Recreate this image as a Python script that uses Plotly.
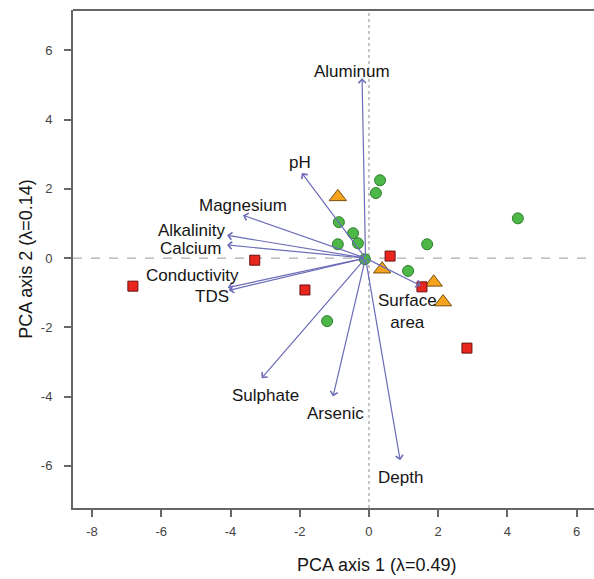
import plotly.graph_objects as go

# Site scores
green_x = [0.32, 0.20, -0.87, -0.46, -0.32, -0.90, -0.12, 1.68, 1.13, 4.30, -1.21]
green_y = [2.25, 1.88, 1.04, 0.72, 0.43, 0.40, -0.03, 0.40, -0.37, 1.15, -1.82]
orange_x = [-0.90, 0.38, 1.87, 2.14]
orange_y = [1.77, -0.32, -0.70, -1.27]
red_x = [-3.30, -6.82, 0.61, 1.53, -1.85, 2.83]
red_y = [-0.06, -0.81, 0.06, -0.83, -0.92, -2.60]

# Variable vectors (arrow tips)
var_names = ["Aluminum", "pH", "Magnesium", "Alkalinity", "Calcium",
             "Conductivity", "TDS", "Sulphate", "Arsenic", "Depth", "Surface area"]
var_x = [-0.20, -1.94, -3.64, -4.10, -4.10, -4.08, -4.05, -3.10, -1.04, 0.90, 1.50]
var_y = [5.20, 2.46, 1.24, 0.66, 0.38, -0.85, -0.93, -3.47, -4.00, -5.84, -0.80]
# label positions
lab_x = [-0.50, -2.00, -3.64, -5.10, -5.17, -5.10, -4.54, -3.00, -0.98, 0.90, 1.12]
lab_y = [5.40, 2.75, 1.53, 0.80, 0.29, -0.50, -1.10, -3.96, -4.48, -6.33, -1.54]
lab_text = ["Aluminum", "pH", "Magnesium", "Alkalinity", "Calcium",
            "Conductivity", "TDS", "Sulphate", "Arsenic", "Depth", "Surface<br>area"]
origin = (-0.10, 0.0)

x_ticks = [-8, -6, -4, -2, 0, 2, 4, 6]
y_ticks = [-6, -4, -2, 0, 2, 4, 6]
x_title = "PCA axis 1 (λ=0.49)"
y_title = "PCA axis 2 (λ=0.14)"

arrow_color = "#6C6CB8"

fig = go.Figure()

# reference dashed lines
fig.add_shape(type="line", x0=0, x1=0, y0=-7.22, y1=7.17, xref="x", yref="y",
              line=dict(color="#8a8a8a", width=1, dash="dot"), layer="below")
fig.add_shape(type="line", x0=-8.55, x1=6.6, y0=0, y1=0, xref="x", yref="y",
              line=dict(color="#9a9a9a", width=1, dash="dash"), layer="below")

fig.add_trace(go.Scatter(x=green_x, y=green_y, mode="markers",
                         marker=dict(symbol="circle", size=11, color="#4DB848",
                                     line=dict(color="#2E7D2E", width=1)),
                         showlegend=False, hoverinfo="skip"))
fig.add_trace(go.Scatter(x=orange_x, y=orange_y, mode="markers",
                         marker=dict(symbol="triangle-up", size=15, color="#F5A21C",
                                     line=dict(color="#7A5010", width=1)),
                         showlegend=False, hoverinfo="skip"))
fig.add_trace(go.Scatter(x=red_x, y=red_y, mode="markers",
                         marker=dict(symbol="square", size=10, color="#E8261E",
                                     line=dict(color="#6A1010", width=1)),
                         showlegend=False, hoverinfo="skip"))

for vx, vy in zip(var_x, var_y):
    fig.add_annotation(x=vx, y=vy, ax=origin[0], ay=origin[1], xref="x", yref="y",
                       axref="x", ayref="y", text="", showarrow=True,
                       arrowhead=4, arrowsize=1.2, arrowwidth=1.2, arrowcolor=arrow_color)

for lx, ly, t in zip(lab_x, lab_y, lab_text):
    fig.add_annotation(x=lx, y=ly, xref="x", yref="y", text=t, showarrow=False,
                       font=dict(family="Liberation Sans, Arial", size=17, color="#151515"))

# x axis title (centred as in the reference, which is offset to the right)
fig.add_annotation(x=0.583, y=-0.1145, xref="paper", yref="paper", text=x_title,
                   showarrow=False, xanchor="center", yanchor="middle",
                   font=dict(family="Liberation Sans, Arial", size=18, color="#151515"))

fig.update_layout(
    width=594, height=579,
    margin=dict(l=73, r=0, t=10, b=71),
    paper_bgcolor="white", plot_bgcolor="white",
    font=dict(family="Liberation Sans, Arial", color="#222222"),
    xaxis=dict(range=[-8.55, 6.5], tickvals=x_ticks, ticktext=[str(v) for v in x_ticks],
               automargin=False,
               showgrid=False, zeroline=False, showline=True, linecolor="#666666",
               linewidth=2, ticks="outside", ticklen=7, tickcolor="#666666", tickwidth=2,
               ticklabelstandoff=3,
               tickfont=dict(size=13, color="#444444"),
               mirror=False),
    yaxis=dict(range=[-7.22, 7.17], tickvals=y_ticks, ticktext=[str(v) for v in y_ticks],
               automargin=False,
               showgrid=False, zeroline=False, showline=True, linecolor="#666666",
               linewidth=2, ticks="outside", ticklen=7, tickcolor="#666666", tickwidth=2,
               ticklabelstandoff=9,
               tickfont=dict(size=13, color="#444444"),
               title=dict(text=y_title, font=dict(size=18, color="#151515"),
                          standoff=4)),
)
# top border line
fig.add_shape(type="line", xref="paper", yref="paper", x0=0, x1=1, y0=1, y1=1,
              line=dict(color="#666666", width=2))

fig.write_html("out.html", config={"displayModeBar": False})

# remove the browser's default page margin so the figure sits at the window origin
with open("out.html", "r", encoding="utf-8") as f:
    html = f.read()
html = html.replace("<body>", '<body style="margin:0;padding:0;">', 1)
with open("out.html", "w", encoding="utf-8") as f:
    f.write(html)
